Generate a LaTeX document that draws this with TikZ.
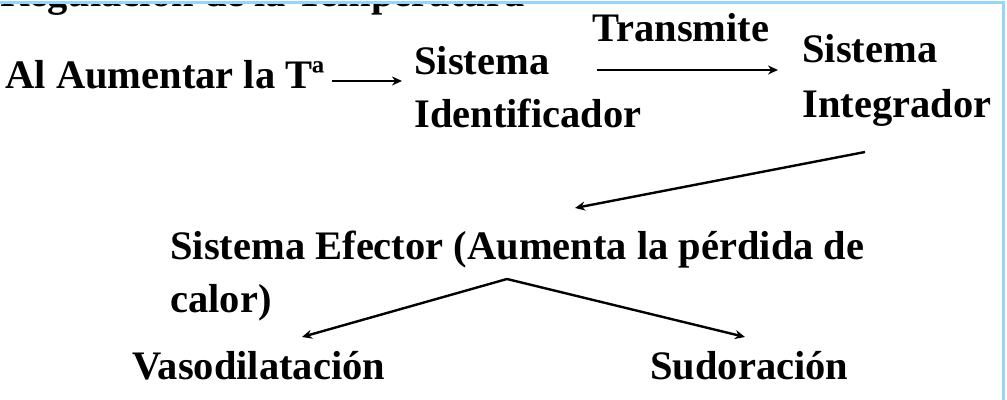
\documentclass[tikz,border=0pt]{standalone}
\usepackage{fontspec}
\setmainfont{Liberation Serif}
\usetikzlibrary{arrows.meta,calc}
\definecolor{frameblue}{RGB}{150,214,248}
\tikzset{
  lbl/.style={font=\bfseries\fontsize{20.25}{24}\selectfont, anchor=base west, inner sep=0pt},
  arr/.style={line width=1.2pt, -{Stealth[length=5pt,width=4.5pt]}},
  frame/.style={frameblue, line width=1.5pt}
}
\begin{document}
\begin{tikzpicture}[x=0.5pt,y=-0.5pt]
\useasboundingbox (0,0) rectangle (1007,400);
\clip (0,0) rectangle (1007,400);
% clipped title (only its lowest part shows below the frame line)
\node[lbl] (title) at (0,7) {Regulación de la Temperatura};
\fill[white] (0,0) rectangle (1007,3.5);
% frame
\draw[frame] (0,2.5) -- (1003.5,2.5) -- (1003.5,401);
% labels
\node[lbl] (al) at (5,89) {Al Aumentar la Tª};
\node[lbl] (identA) at (414,75) {Sistema};
\node[lbl] (identB) at (414,128) {Identificador};
\node[lbl] (trans) at (592,42) {Transmite};
\node[lbl] (integA) at (802,63) {Sistema};
\node[lbl] (integB) at (802,118) {Integrador};
\node[lbl] (efA) at (170,260) {Sistema Efector (Aumenta la pérdida de};
\node[lbl] (efB) at (170,313) {calor)};
\node[lbl] (vaso) at (132,380) {Vasodilatación};
\node[lbl] (sudo) at (650,380) {Sudoración};
% connectors
\draw[arr] ($(al.base west)+(327,-8)$) -- ($(identA.base west)+(-12,6)$);
\draw[arr] ($(identA.base west)+(183,-5)$) -- ($(integA.base west)+(-24,7)$);
\draw[arr] ($(integB.base west)+(63,34)$) -- ($(efA.base west)+(405,-52)$);
\coordinate (apex) at ($(efA.base west)+(337,19)$);
\draw[arr] (apex) -- ($(vaso.base west)+(170,-43)$);
\draw[arr] (apex) -- ($(sudo.base west)+(95,-43)$);
\end{tikzpicture}
\end{document}
